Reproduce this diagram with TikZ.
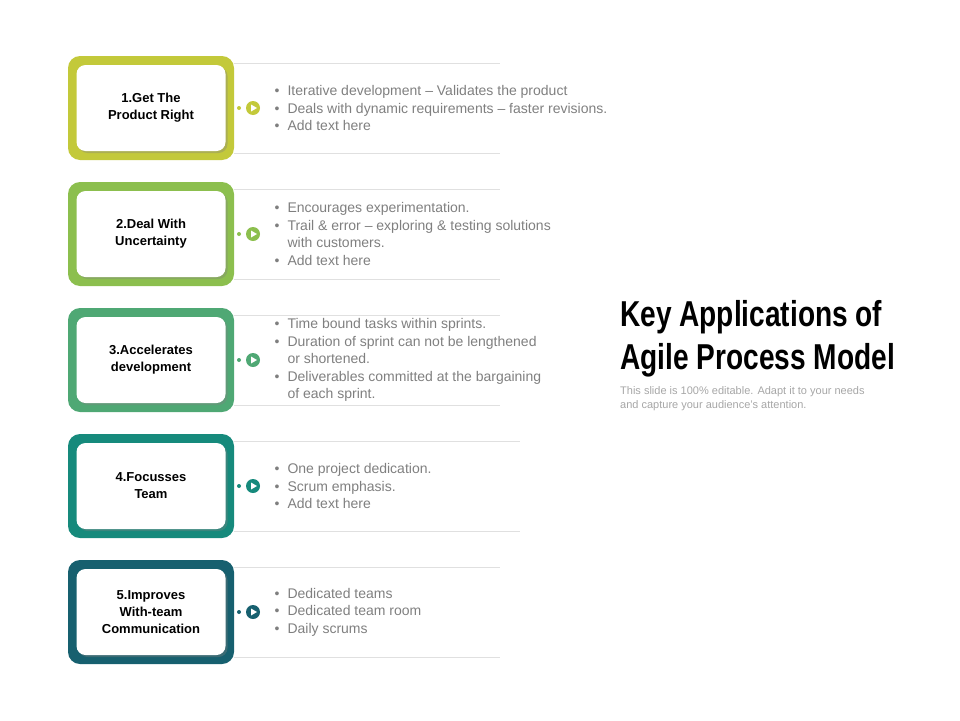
\documentclass[tikz,border=0pt]{standalone}
\usepackage{fontspec}
\setmainfont{Liberation Sans}
\newfontfamily\titlefont[FakeStretch=0.78]{Liberation Sans}
\usetikzlibrary{positioning,shadows,calc}
\definecolor{cOne}{HTML}{C3C93A}
\definecolor{cTwo}{HTML}{8CBF4E}
\definecolor{cThree}{HTML}{4FA874}
\definecolor{cFour}{HTML}{168A7C}
\definecolor{cFive}{HTML}{17606F}
\definecolor{txtgray}{HTML}{7F7F7F}
\tikzset{
	outerbox/.style={rounded corners=12pt, minimum width=166pt, minimum height=104pt},
	innerbox/.style={fill=white, rounded corners=9pt, minimum width=149pt, minimum height=86pt,
		drop shadow={shadow xshift=2pt, shadow yshift=-2pt, opacity=0.35}, align=center,
		font=\fontsize{13}{17}\selectfont\bfseries},
	bullets/.style={anchor=west, align=left, text=txtgray, font=\fontsize{14}{17.5}\selectfont},
	sepline/.style={draw=black!12, line width=0.8pt},
}
\newcommand{\itm}{\makebox[13pt][l]{\textbullet}}
\newcommand{\ind}{\hspace*{13pt}}
\begin{document}
\begin{tikzpicture}[x=1pt, y=-1pt]
	\useasboundingbox (0,0) rectangle (960,720);
	\foreach \i/\col/\lbl/\txt/\len in {
		1/cOne/{1.Get The\\Product Right}/{\itm Iterative development -- Validates the product\\\itm Deals with dynamic requirements -- faster revisions.\\\itm Add text here}/500,
		2/cTwo/{2.Deal With\\Uncertainty}/{\itm Encourages experimentation.\\\itm Trail \& error -- exploring \& testing solutions\\\ind with customers.\\\itm Add text here}/500,
		3/cThree/{3.Accelerates\\development}/{\itm Time bound tasks within sprints.\\\itm Duration of sprint can not be lengthened\\\ind or shortened.\\\itm Deliverables committed at the bargaining\\\ind of each sprint.}/500,
		4/cFour/{4.Focusses\\Team}/{\itm One project dedication.\\\itm Scrum emphasis.\\\itm Add text here}/520,
		5/cFive/{5.Improves\\With-team\\Communication}/{\itm Dedicated teams\\\itm Dedicated team room\\\itm Daily scrums}/500} {
		\pgfmathsetmacro{\cy}{108+126*(\i-1)}
		\draw[sepline] (234,\cy-45) -- (\len,\cy-45);
		\draw[sepline] (234,\cy+45) -- (\len,\cy+45);
		\node[outerbox, fill=\col] (out\i) at (151,\cy) {};
		\node[innerbox] (box\i) at (out\i) {\lbl};
		\fill[\col] (239,\cy) circle (2pt);
		\node[circle, fill=\col, minimum size=14pt, inner sep=0pt] (dot\i) at (253,\cy) {};
		\fill[white] ($(dot\i)+(-2,-3.5)$) -- ($(dot\i)+(4,0)$) -- ($(dot\i)+(-2,3.5)$) -- cycle;
		\node[bullets] (txt\i) at (271,\cy) {\txt};
	}
	\node[anchor=north west, font=\titlefont\bfseries\fontsize{36}{43}\selectfont, align=left, inner sep=0pt] (title) at (620,300) {Key Applications of\\Agile Process Model};
	\node[below=9pt of title.south west, anchor=north west, inner sep=0pt, align=left, text=black!35, font=\fontsize{11}{14}\selectfont] (sub) {This slide is 100\% editable. Adapt it to your needs\\and capture your audience's attention.};
\end{tikzpicture}
\end{document}
